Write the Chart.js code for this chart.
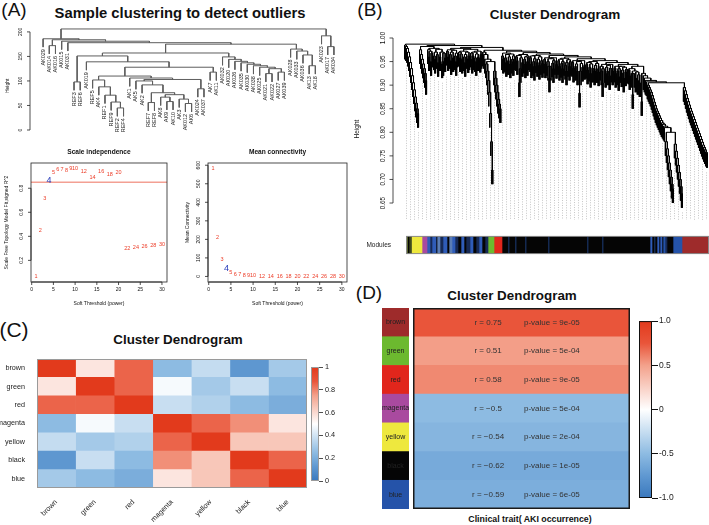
<!DOCTYPE html>
<html lang="en">
<head>
<meta charset="UTF-8">
<title>WGCNA modules</title>
<script src="https://cdn.jsdelivr.net/npm/chart.js@4"></script>
<style>
  body { margin: 0; background: #fff; }
  #page { position: relative; width: 709px; height: 525px; overflow: hidden; background: #fff;
          font-family: "Liberation Sans", Arial, Helvetica, sans-serif; color: #111; }
  #page canvas { position: absolute; }
  .txt { position: absolute; white-space: nowrap; line-height: 1; transform: translate(-50%, -50%); }
  .tag { font-size: 19px; }
  .ttl { font-weight: bold; }
</style>
</head>
<body>
<div id="page">
  <div class="txt tag" style="left:14px;top:9px">(A)</div>
  <div class="txt ttl" style="left:180px;top:13px;font-size:14.8px">Sample clustering to detect outliers</div>
  <div class="txt tag" style="left:370px;top:9px">(B)</div>
  <div class="txt ttl" style="left:555px;top:15px;font-size:13.5px">Cluster Dendrogram</div>
  <div class="txt tag" style="left:14px;top:329px;font-size:21px">(C)</div>
  <div class="txt ttl" style="left:178px;top:340px;font-size:13.4px">Cluster Dendrogram</div>
  <div class="txt tag" style="left:369px;top:292px">(D)</div>
  <div class="txt ttl" style="left:512px;top:296px;font-size:13.4px">Cluster Dendrogram</div>
  <div class="txt ttl" style="left:530px;top:519px;font-size:8.8px">Clinical trait( AKI occurrence)</div>
</div>
<script>
// ---- data ----
// (A) sample tree: leaf order and the merge height between neighbouring leaves
const sampleNames = ['AK029','AK014','AK016','AK015','AK031','REF3','REF6','AK019','REF5','AK4','REF1','REF9',
  'REF2','REF4','AK1','AK5','AK2','REF7','REF8','AK8','AK9','AK10','AK3','AK012','AK6','AK024','AK037','AK7',
  'AK11','AK032','AK020','AK026','AK035','AK030','AK038','AK025','AK021','AK022','AK027','AK039','AK028',
  'AK033','AK036','AK13','AK18','AK023','AK017','AK034'];
const sampleMerge = [186,172,184,181,178,98,151,139,102,88,71,57,45,110,106,100,92,56,76,67,58,72,63,54,103,
  84,128,118,157,149,144,140,137,134,131,128,115,125,118,175,165,161,153,131,206,192,170];
const sampleHeightTicks = [0, 50, 100, 150, 200];

// (A) soft threshold scan
const powers = [1,2,3,4,5,6,7,8,9,10,12,14,16,18,20,22,24,26,28,30];
const fitR2 = [0.065,0.445,0.713,0.867,0.927,0.955,0.955,0.95,0.966,0.966,0.94,0.893,0.94,0.918,0.927,
  0.30,0.308,0.319,0.327,0.335];
const meanK = [582,209,91,42,22,13,8,5.5,4,3,2,1.5,1,0.8,0.6,0.5,0.4,0.3,0.3,0.2];
const chosenPower = 4;
const cutR2 = 0.85;
const powerTicks = [0, 5, 10, 15, 20, 25, 30];
const r2Ticks = [0.2, 0.4, 0.6, 0.8];
const kTicks = [0, 100, 200, 300, 400, 500, 600];

// (B) gene tree: merge height between neighbouring leaves, left to right
const geneMerge = [
  // left cluster with two falling branches
  0.985,0.982,0.978,0.97,0.96,0.948,0.935,0.92,0.905,0.89,0.875,0.862,0.85,0.84,0.987,
  0.975,0.965,0.955,0.945,0.935,0.925,0.91,0.982,
  0.975,0.96,0.972,0.95,0.968,0.978,0.962,0.955,0.97,0.965,0.948,0.976,0.96,0.97,0.945,0.95,0.968,0.958,0.984,
  0.972,0.96,0.975,0.965,0.952,0.97,0.958,0.974,0.962,0.95,0.968,0.978,
  0.97,0.958,0.966,0.955,0.972,0.96,0.948,0.965,0.97,0.956,0.962,0.976,
  0.968,0.955,0.962,0.97,0.958,0.95,0.966,0.96,0.972,0.957,0.965,0.98,
  // long drops
  0.97,0.965,0.955,0.945,0.93,0.91,0.885,0.84,0.78,0.72,0.95,0.93,0.915,0.9,0.885,0.87,0.86,0.85,0.974,
  // main block
  0.962,0.955,0.968,0.958,0.948,0.965,0.952,0.96,0.945,0.966,0.955,0.95,0.962,0.972,
  0.96,0.952,0.963,0.905,0.935,0.958,0.948,0.965,0.955,0.945,0.96,0.95,0.962,0.969,
  0.958,0.945,0.962,0.95,0.94,0.956,0.963,0.948,0.955,0.942,0.96,0.952,0.946,0.966,
  0.955,0.945,0.958,0.95,0.94,0.915,0.94,0.956,0.947,0.935,0.952,0.958,0.944,0.963,
  0.952,0.94,0.955,0.946,0.935,0.95,0.957,0.942,0.93,0.948,0.954,0.94,0.95,0.96,
  0.948,0.936,0.952,0.94,0.945,0.93,0.95,0.883,0.93,0.946,0.938,0.952,0.942,0.956,
  0.944,0.932,0.948,0.938,0.925,0.945,0.936,0.95,0.93,0.942,0.935,0.946,0.928,0.952,
  0.94,0.93,0.905,0.935,0.944,0.925,0.938,0.93,0.942,0.92,0.936,0.944,0.93,0.948,
  0.936,0.925,0.94,0.93,0.918,0.935,0.94,0.926,0.932,0.915,0.938,0.928,0.934,0.944,
  0.932,0.92,0.935,0.925,0.88,0.925,0.93,0.915,0.928,0.91,0.922,0.905,0.94,
  // falling branch before the last cluster
  0.865,0.925,
  0.92,0.915,0.91,0.907,0.9,0.895,0.89,0.885,0.878,0.871,0.864,0.857,0.85,0.845,0.84,0.835,0.83,0.825,0.82,0.817,0.813,0.81,
  0.78,0.765,0.75,0.735,0.72,0.705,0.69,0.68,0.80,
  0.775,0.76,0.745,0.73,0.715,0.70,0.685,0.67,0.905,
  // last cluster
  0.895,0.888,0.88,0.872,0.865,0.858,0.851,0.845,0.839,0.833,0.827,0.821,0.815,0.809,0.803,0.797,0.791,0.785,
  0.779,0.773,0.768,0.763,0.758,0.755];
const geneHeightTicks = [0.65, 0.70, 0.75, 0.80, 0.85, 0.90, 0.95, 1.00];
const moduleSegs = ['darkolivegreen','black','darkgreen','yellow','magenta',
  'royalblue','midnightblue','royalblue','black','steelblue','midnightblue','royalblue','black','steelblue',
  'royalblue','midnightblue','black','royalblue','black','midnightblue','royalblue','black','midnightblue',
  'royalblue','black','midnightblue','green','red',
  'black','darkblue','black','darkblue','black','darkblue','black','darkblue','black','darkblue','black',
  'darkblue','black','royalblue','black','darkblue','black','royalblue','black','royalblue','black','blue',
  'midnightblue','black','blue','brown'];
const moduleSegSizes = [1.5,1.5,2.5,10.5,5,
  3,2,4,1,3,3,4,2,3,3,3,3,3,2,4,3,3,3,3,3,3,6,8,
  6,1,6,1,9,1,22,1,38,1,14,1,47,2,2,1,2,2,1,2,1,2,2,6,9,27];

// (C) module eigengene correlations
const modNames = ['brown','green','red','magenta','yellow','black','blue'];
const eigenCor = [
  [1.00,0.57,0.85,0.25,0.37,0.12,0.30],
  [0.57,1.00,0.85,0.48,0.30,0.38,0.25],
  [0.85,0.85,1.00,0.38,0.33,0.25,0.20],
  [0.25,0.48,0.38,1.00,0.85,0.78,0.57],
  [0.37,0.30,0.33,0.85,1.00,0.65,0.65],
  [0.12,0.38,0.25,0.78,0.65,1.00,0.85],
  [0.30,0.25,0.20,0.57,0.65,0.85,1.00]];

// (D) module - trait relationship
const traitR = [0.75, 0.51, 0.58, -0.5, -0.54, -0.62, -0.59];
const traitP = ['9e-05','5e-04','9e-05','5e-04','2e-04','1e-05','6e-05'];

// ---- styles ----
const FONT = '"Liberation Sans", Arial, Helvetica, sans-serif';
const moduleHex = {
  brown: '#9e2b2b', green: '#6cb92f', red: '#e1261c', magenta: '#a94a9f', yellow: '#eee83e',
  black: '#050505', blue: '#2553a9', darkolivegreen: '#5f6f2a', darkgreen: '#3f4a1c',
  royalblue: '#2f5cb8', midnightblue: '#172a55', steelblue: '#5b7db5', darkblue: '#1d3d78'
};
const ramp = [[0, '#3a78bd'], [0.125, '#5f98d1'], [0.25, '#8dbbe2'], [0.5, '#ffffff'],
  [0.75, '#f3a18b'], [0.875, '#e9553a'], [1, '#e23a1c']];

Chart.defaults.font.family = FONT;
Chart.defaults.color = '#222';
Chart.defaults.animation = false;
Chart.defaults.events = [];
Chart.defaults.plugins.legend.display = false;
Chart.defaults.plugins.tooltip.enabled = false;

function hexRgb(h) { return [1, 3, 5].map(i => parseInt(h.substr(i, 2), 16)); }
function heatColor(t) {
  t = Math.max(0, Math.min(1, t));
  for (let i = 1; i < ramp.length; i++) {
    if (t <= ramp[i][0]) {
      const [t0, c0] = ramp[i - 1], [t1, c1] = ramp[i];
      const f = (t - t0) / (t1 - t0), a = hexRgb(c0), b = hexRgb(c1);
      return 'rgb(' + a.map((v, k) => Math.round(v + (b[k] - v) * f)).join(',') + ')';
    }
  }
  return ramp[ramp.length - 1][1];
}
function gradientFill(c) {
  const { ctx, chartArea: a } = c.chart;
  if (!a) return '#fff';
  const g = ctx.createLinearGradient(0, a.bottom, 0, a.top);
  ramp.forEach(([t, col]) => g.addColorStop(t, col));
  return g;
}

function makeCanvas(left, top, w, h) {
  const c = document.createElement('canvas');
  c.width = w; c.height = h;
  c.style.left = left + 'px'; c.style.top = top + 'px';
  c.style.width = w + 'px'; c.style.height = h + 'px';
  document.getElementById('page').appendChild(c);
  return c;
}

// dendrogram from neighbour merge heights (max gap splits first)
function dendroSegments(gaps, hang) {
  const pts = [], leafBottom = [];
  const seg = (x1, y1, x2, y2) => pts.push({ x: x1, y: y1 }, { x: x2, y: y2 }, { x: x2, y: null });
  function build(lo, hi) {
    if (lo === hi) return { x: lo, h: null, leaf: lo };
    let k = lo;
    for (let i = lo; i < hi; i++) if (gaps[i] > gaps[k]) k = i;
    const L = build(lo, k), R = build(k + 1, hi), h = gaps[k];
    [L, R].forEach(n => {
      const bottom = n.h === null ? h - hang : n.h;
      if (n.h === null) leafBottom[n.leaf] = bottom;
      seg(n.x, h, n.x, bottom);
    });
    seg(L.x, h, R.x, h);
    return { x: (L.x + R.x) / 2, h };
  }
  build(0, gaps.length);
  return { pts, leafBottom };
}

// R style axes drawn from the chart scales
function rAxes(cfg) {
  return {
    id: 'rAxes',
    afterDraw(chart) {
      const { ctx, chartArea: a, scales } = chart;
      const tick = cfg.tick || 3, lab = cfg.lab || 4;
      ctx.save();
      ctx.strokeStyle = '#222'; ctx.fillStyle = '#111'; ctx.lineWidth = 0.8;
      if (cfg.box) ctx.strokeRect(a.left, a.top, a.right - a.left, a.bottom - a.top);
      ctx.font = cfg.size + 'px ' + FONT;
      if (cfg.y) {
        const x0 = a.left - (cfg.y.gap || 0);
        const ps = cfg.y.ticks.map(v => scales.y.getPixelForValue(v));
        ctx.beginPath();
        ctx.moveTo(x0, ps[0]); ctx.lineTo(x0, ps[ps.length - 1]);
        ps.forEach(p => { ctx.moveTo(x0, p); ctx.lineTo(x0 - tick, p); });
        ctx.stroke();
        ctx.textAlign = 'center'; ctx.textBaseline = 'bottom';
        cfg.y.ticks.forEach((v, i) => {
          ctx.save();
          ctx.translate(x0 - tick - lab, ps[i]);
          ctx.rotate(-Math.PI / 2);
          ctx.fillText(cfg.y.labels ? cfg.y.labels[i] : String(v), 0, 0);
          ctx.restore();
        });
      }
      if (cfg.x) {
        const y0 = a.bottom;
        const ps = cfg.x.ticks.map(v => scales.x.getPixelForValue(v));
        ctx.beginPath();
        ctx.moveTo(ps[0], y0); ctx.lineTo(ps[ps.length - 1], y0);
        ps.forEach(p => { ctx.moveTo(p, y0); ctx.lineTo(p, y0 + tick); });
        ctx.stroke();
        ctx.textAlign = 'center'; ctx.textBaseline = 'top';
        cfg.x.ticks.forEach((v, i) => ctx.fillText(String(v), ps[i], y0 + tick + 2.5));
      }
      ctx.font = (cfg.titleSize || cfg.size) + 'px ' + FONT;
      ctx.textAlign = 'center'; ctx.textBaseline = 'middle';
      if (cfg.yTitle) {
        const cy = cfg.yTitle.at != null ? scales.y.getPixelForValue(cfg.yTitle.at) : (a.top + a.bottom) / 2;
        ctx.save();
        ctx.translate(a.left - cfg.yTitle.dx, cy);
        ctx.rotate(-Math.PI / 2);
        ctx.fillText(cfg.yTitle.text, 0, 0);
        ctx.restore();
      }
      if (cfg.xTitle) ctx.fillText(cfg.xTitle.text, (a.left + a.right) / 2, a.bottom + cfg.xTitle.dy);
      if (cfg.main) {
        ctx.font = 'bold ' + cfg.main.size + 'px ' + FONT;
        ctx.fillText(cfg.main.text, (a.left + a.right) / 2, cfg.main.y);
      }
      ctx.restore();
    }
  };
}

function frame(color, width) {
  return {
    id: 'frame',
    afterDatasetsDraw(chart) {
      const { ctx, chartArea: a } = chart, w = width || 1;
      ctx.save();
      ctx.strokeStyle = color; ctx.lineWidth = w;
      ctx.strokeRect(a.left + w / 2, a.top + w / 2, a.right - a.left - w, a.bottom - a.top - w);
      ctx.restore();
    }
  };
}

// ---- (A) sample dendrogram ----
const dA = dendroSegments(sampleMerge, 17);
new Chart(makeCanvas(0, 0, 350, 150), {
  type: 'scatter',
  data: { datasets: [{ data: dA.pts, showLine: true, borderColor: '#5e5e5e', borderWidth: 1, pointRadius: 0 }] },
  options: {
    responsive: false,
    layout: { padding: { left: 40, right: 13, top: 27, bottom: 20 } },
    scales: { x: { display: false, min: -0.5, max: 47.5 }, y: { display: false, min: 0, max: 210 } }
  },
  plugins: [
    rAxes({ size: 5, y: { ticks: sampleHeightTicks, gap: 10 }, yTitle: { text: 'Height', dx: 32, at: 90 } }),
    {
      id: 'leafLabels',
      afterDatasetsDraw(chart) {
        const { ctx, scales: { x, y } } = chart;
        ctx.save();
        ctx.font = '5.5px ' + FONT; ctx.fillStyle = '#222';
        ctx.textAlign = 'right'; ctx.textBaseline = 'middle';
        sampleNames.forEach((n, i) => {
          ctx.save();
          ctx.translate(x.getPixelForValue(i), y.getPixelForValue(dA.leafBottom[i]) + 2);
          ctx.rotate(-Math.PI / 2);
          ctx.fillText(n, 0, 0);
          ctx.restore();
        });
        ctx.restore();
      }
    }
  ]
});

// ---- (A) soft threshold plots ----
function powerText() {
  return {
    id: 'powerText',
    afterDatasetsDraw(chart) {
      const { ctx } = chart;
      ctx.save();
      ctx.textAlign = 'center'; ctx.textBaseline = 'middle';
      chart.getDatasetMeta(0).data.forEach((pt, i) => {
        const hl = powers[i] === chosenPower;
        ctx.fillStyle = hl ? '#2438b8' : '#ec3b26';
        ctx.font = (hl ? 9 : 5.5) + 'px ' + FONT;
        ctx.fillText(String(powers[i]), pt.x, pt.y);
      });
      ctx.restore();
    }
  };
}

new Chart(makeCanvas(0, 145, 175, 170), {
  type: 'scatter',
  data: { datasets: [
    { data: powers.map((p, i) => ({ x: p, y: fitR2[i] })), pointRadius: 0 },
    { data: [{ x: -1, y: cutR2 }, { x: 32, y: cutR2 }], showLine: true, borderColor: '#f3a093', borderWidth: 1.6, pointRadius: 0 }
  ] },
  options: {
    responsive: false,
    layout: { padding: { left: 31, right: 8, top: 18, bottom: 33 } },
    scales: { x: { display: false, min: -0.16, max: 31.16 }, y: { display: false, min: 0.02, max: 1.01 } }
  },
  plugins: [
    rAxes({ box: true, size: 5, x: { ticks: powerTicks }, y: { ticks: r2Ticks },
      main: { text: 'Scale independence', size: 6.6, y: 7 },
      xTitle: { text: 'Soft Threshold (power)', dy: 22 },
      yTitle: { text: 'Scale Free Topology Model Fit,signed R^2', dx: 24 } }),
    powerText()
  ]
});

new Chart(makeCanvas(175, 145, 175, 170), {
  type: 'scatter',
  data: { datasets: [{ data: powers.map((p, i) => ({ x: p, y: meanK[i] })), pointRadius: 0 }] },
  options: {
    responsive: false,
    layout: { padding: { left: 33, right: 3, top: 18, bottom: 33 } },
    scales: { x: { display: false, min: -0.16, max: 31.16 }, y: { display: false, min: -30, max: 612 } }
  },
  plugins: [
    rAxes({ box: true, size: 5, x: { ticks: powerTicks }, y: { ticks: kTicks },
      main: { text: 'Mean connectivity', size: 6.6, y: 7 },
      xTitle: { text: 'Soft Threshold (power)', dy: 22 },
      yTitle: { text: 'Mean Connectivity', dx: 20 } }),
    powerText()
  ]
});

// ---- (B) gene dendrogram ----
const dB = dendroSegments(geneMerge, 0.03);
new Chart(makeCanvas(350, 20, 359, 205), {
  type: 'scatter',
  data: { datasets: [{ data: dB.pts, showLine: true, borderColor: '#000', borderWidth: 1, pointRadius: 0 }] },
  options: {
    responsive: false,
    layout: { padding: { left: 54, right: 1, top: 18, bottom: 5 } },
    scales: { x: { display: false, min: -0.5, max: geneMerge.length + 0.5 }, y: { display: false, min: 0.614, max: 1.0 } }
  },
  plugins: [
    {
      id: 'guides',
      beforeDatasetsDraw(chart) {
        const { ctx, chartArea: a, scales: { x, y } } = chart;
        ctx.save();
        ctx.strokeStyle = '#b8b8b8'; ctx.lineWidth = 0.8; ctx.setLineDash([1, 1.5]);
        ctx.beginPath();
        for (let i = 1; i < dB.leafBottom.length; i += 4) {
          const px = Math.round(x.getPixelForValue(i)) + 0.5;
          ctx.moveTo(px, y.getPixelForValue(dB.leafBottom[i] - 0.01));
          ctx.lineTo(px, a.bottom);
        }
        ctx.stroke();
        ctx.restore();
      }
    },
    rAxes({ size: 6.3, tick: 3.5, lab: 3.5, titleSize: 6.5,
      y: { ticks: geneHeightTicks, labels: geneHeightTicks.map(v => v.toFixed(2)), gap: 11 },
      yTitle: { text: 'Height', dx: 47 } })
  ]
});

// module colour bar
new Chart(makeCanvas(350, 225, 359, 40), {
  type: 'bar',
  data: {
    labels: ['Modules'],
    datasets: moduleSegs.map((m, i) => ({
      data: [moduleSegSizes[i]], backgroundColor: moduleHex[m], barPercentage: 1, categoryPercentage: 1
    }))
  },
  options: {
    responsive: false,
    indexAxis: 'y',
    layout: { padding: { top: 5, bottom: 4 } },
    scales: {
      x: { display: false, stacked: true, min: 0, max: moduleSegSizes.reduce((s, v) => s + v, 0) },
      y: { stacked: true, grid: { display: false }, border: { display: false },
           ticks: { font: { size: 6.5 }, color: '#222', padding: 7 }, afterFit: s => { s.width = 56; } }
    }
  },
  plugins: [frame('#8a8a8a', 1)]
});

// ---- (C) eigengene heatmap ----
new Chart(makeCanvas(0, 350, 350, 175), {
  type: 'bar',
  data: {
    labels: modNames,
    datasets: modNames.map((col, j) => ({
      data: modNames.map(() => [j, j + 1]),
      backgroundColor: modNames.map((row, i) => heatColor(eigenCor[i][j])),
      barPercentage: 1, categoryPercentage: 1, grouped: false
    }))
  },
  options: {
    responsive: false,
    indexAxis: 'y',
    layout: { padding: { top: 9, right: 43 } },
    scales: {
      x: { display: false, min: 0, max: modNames.length },
      x2: { type: 'category', labels: modNames, position: 'bottom', offset: true,
            grid: { display: false }, border: { display: false },
            ticks: { minRotation: 45, maxRotation: 45, font: { size: 7.2 }, color: '#222', padding: 2 },
            afterFit: s => { s.height = 37; } },
      y: { grid: { display: false }, border: { display: false },
           ticks: { font: { size: 7.2 }, color: '#222', padding: 4 }, afterFit: s => { s.width = 37; } }
    }
  },
  plugins: [frame('#9a9a9a', 1)]
});

new Chart(makeCanvas(300, 350, 50, 175), {
  type: 'bar',
  data: { labels: [''], datasets: [{ data: [[0, 1]], backgroundColor: gradientFill, barPercentage: 1, categoryPercentage: 1 }] },
  options: {
    responsive: false,
    layout: { padding: { left: 11, top: 17, bottom: 44 } },
    scales: {
      x: { display: false },
      y: { position: 'right', min: 0, max: 1,
           grid: { drawOnChartArea: false, color: '#222', tickLength: 4, lineWidth: 0.8 }, border: { display: false },
           ticks: { stepSize: 0.2, font: { size: 7.3 }, color: '#222', padding: 2,
                    callback: v => (v === 0 || v === 1 ? String(v) : v.toFixed(1)) },
           afterFit: s => { s.width = 31; } }
    }
  },
  plugins: [frame('#9a9a9a', 1)]
});

// ---- (D) module-trait heatmap ----
function rowText(columns, size, color) {
  return {
    id: 'rowText',
    afterDatasetsDraw(chart) {
      const { ctx, chartArea: a } = chart;
      ctx.save();
      ctx.font = size + 'px ' + FONT; ctx.fillStyle = color;
      ctx.textAlign = 'center'; ctx.textBaseline = 'middle';
      chart.getDatasetMeta(0).data.forEach((bar, i) => {
        columns.forEach(([at, txt]) => ctx.fillText(txt(i), a.left + at * (a.right - a.left), bar.y));
      });
      ctx.restore();
    }
  };
}

new Chart(makeCanvas(382, 308, 27, 201), {
  type: 'bar',
  data: { labels: modNames, datasets: [{ data: modNames.map(() => [0, 1]),
    backgroundColor: modNames.map(m => moduleHex[m]), barPercentage: 1, categoryPercentage: 1 }] },
  options: {
    responsive: false, indexAxis: 'y',
    scales: { x: { display: false, min: 0, max: 1 }, y: { display: false } }
  },
  plugins: [rowText([[0.5, i => modNames[i]]], 7, '#222')]
});

const fmtR = v => 'r = ' + (v < 0 ? '\u2212' + Math.abs(v) : String(v));
new Chart(makeCanvas(413, 308, 217, 201), {
  type: 'bar',
  data: { labels: modNames, datasets: [{ data: modNames.map(() => [0, 1]),
    backgroundColor: traitR.map(r => heatColor((r + 1) / 2)), barPercentage: 1, categoryPercentage: 1 }] },
  options: {
    responsive: false, indexAxis: 'y',
    scales: { x: { display: false, min: 0, max: 1 }, y: { display: false } }
  },
  plugins: [
    rowText([[0.346, i => fmtR(traitR[i])], [0.64, i => 'p-value = ' + traitP[i]]], 8, '#333'),
    frame('#1a1a1a', 1.5)
  ]
});

new Chart(makeCanvas(630, 315, 79, 190), {
  type: 'bar',
  data: { labels: [''], datasets: [{ data: [[-1, 1]], backgroundColor: gradientFill, barPercentage: 1, categoryPercentage: 1 }] },
  options: {
    responsive: false,
    layout: { padding: { left: 9, top: 6, bottom: 7 } },
    scales: {
      x: { display: false },
      y: { position: 'right', min: -1, max: 1,
           grid: { drawOnChartArea: false, color: '#111', tickLength: 6, lineWidth: 1 }, border: { display: false },
           ticks: { stepSize: 0.5, font: { size: 8.5 }, color: '#222', padding: 1,
                    callback: v => (v === 0 ? '0' : v.toFixed(1)) },
           afterFit: s => { s.width = 57; } }
    }
  },
  plugins: [frame('#111', 1)]
});
</script>
</body>
</html>
